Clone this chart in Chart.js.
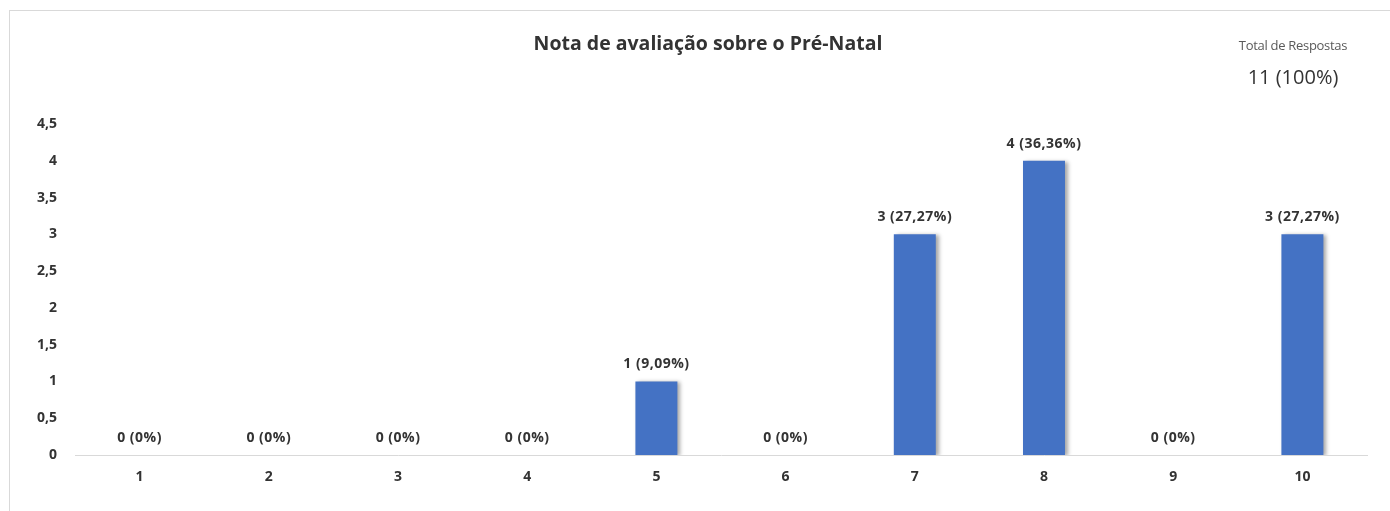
<!DOCTYPE html>
<html>
<head>
<meta charset="utf-8">
<script src="https://cdn.jsdelivr.net/npm/chart.js@4"></script>
<style>
  html, body { margin: 0; padding: 0; background: #fff; }
  #wrap { position: relative; width: 1390px; height: 511px; overflow: hidden; }
  #frame { position: absolute; left: 9px; top: 10px; width: 1400px; height: 520px;
           border: 1px solid #d9d9d9; box-sizing: border-box; }
  #chart { position: absolute; left: 0; top: 0; }
  #title { position: absolute; left: 408px; width: 600px; top: 30px; text-align: center;
           font-family: "Open Sans", sans-serif; font-weight: bold; font-size: 19.5px;
           color: #333; line-height: 26px; }
  .total { position: absolute; left: 1193px; width: 200px; text-align: center;
           font-family: "Open Sans", sans-serif; }
  #totalLabel { top: 36px; font-size: 13px; color: #595959; letter-spacing: -0.3px; }
  #totalValue { top: 63px; font-size: 20px; color: #333; }
</style>
</head>
<body>
<div id="wrap">
  <div id="frame"></div>
  <canvas id="chart" width="1390" height="511"></canvas>
  <div id="title">Nota de avaliação sobre o Pré-Natal</div>
  <div class="total" id="totalLabel">Total de Respostas</div>
  <div class="total" id="totalValue">11 (100%)</div>
</div>
<script>
const notas = ['1', '2', '3', '4', '5', '6', '7', '8', '9', '10'];
const respostas = [0, 0, 0, 0, 1, 0, 3, 4, 0, 3];
const percentuais = ['0%', '0%', '0%', '0%', '9,09%', '0%', '27,27%', '36,36%', '0%', '27,27%'];
const yTicks = [0, 0.5, 1, 1.5, 2, 2.5, 3, 3.5, 4, 4.5];

const FONT = '"Open Sans", sans-serif';
const TEXT = '#333333';

// sombra nas barras, como no Excel
const barShadow = {
    id: 'barShadow',
    beforeDatasetDraw(chart) {
        const ctx = chart.ctx;
        ctx.save();
        ctx.shadowColor = 'rgba(0,0,0,0.35)';
        ctx.shadowBlur = 4;
        ctx.shadowOffsetX = 3;
        ctx.shadowOffsetY = 1;
    },
    afterDatasetDraw(chart) {
        chart.ctx.restore();
    }
};

const barLabels = {
    id: 'barLabels',
    afterDatasetsDraw(chart) {
        const ctx = chart.ctx;
        const meta = chart.getDatasetMeta(0);
        ctx.save();
        ctx.font = 'bold 14px ' + FONT;
        ctx.letterSpacing = '0.5px';
        ctx.fillStyle = TEXT;
        ctx.textAlign = 'center';
        ctx.textBaseline = 'bottom';
        meta.data.forEach((bar, i) => {
            ctx.fillText(respostas[i] + ' (' + percentuais[i] + ')', bar.x, bar.y - 10);
        });
        ctx.restore();
    }
};

new Chart(document.getElementById('chart'), {
    type: 'bar',
    data: {
        labels: notas,
        datasets: [{
            data: respostas,
            backgroundColor: '#4472C4',
            borderWidth: 0,
            categoryPercentage: 1,
            barPercentage: 0.325
        }]
    },
    options: {
        responsive: false,
        animation: false,
        layout: { padding: { top: 124, right: 23, bottom: 0, left: 0 } },
        plugins: {
            legend: { display: false },
            tooltip: { enabled: false },
            title: { display: false }
        },
        scales: {
            x: {
                grid: { display: false, drawTicks: false },
                border: { display: true, color: '#d9d9d9', width: 1 },
                ticks: { color: TEXT, font: { family: FONT, size: 14, weight: 'bold' }, padding: 14 },
                afterFit(scale) { scale.height = 56; }
            },
            y: {
                min: 0,
                max: 4.5,
                grid: { display: false, drawTicks: false },
                border: { display: false },
                afterBuildTicks(scale) { scale.ticks = yTicks.map(v => ({ value: v })); },
                ticks: {
                    color: TEXT,
                    font: { family: FONT, size: 14, weight: 'bold' },
                    padding: 18,
                    callback: v => String(v).replace('.', ',')
                },
                afterFit(scale) { scale.width = 75; }
            }
        }
    },
    plugins: [barShadow, barLabels]
});
</script>
</body>
</html>
